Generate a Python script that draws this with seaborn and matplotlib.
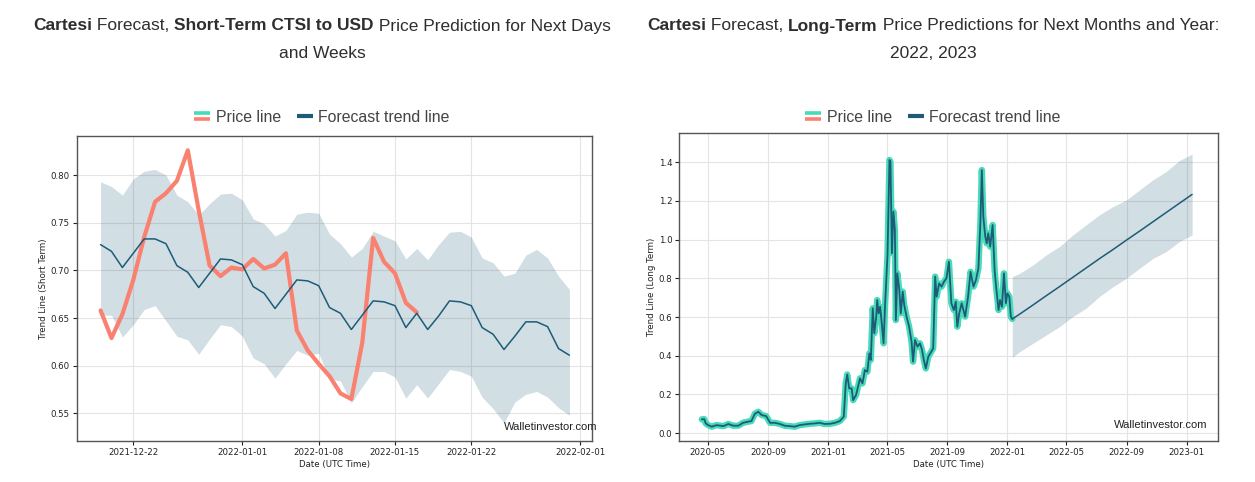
import numpy as np
import pandas as pd
import matplotlib
matplotlib.use("Agg")
import matplotlib.pyplot as plt
import matplotlib.dates as mdates
from matplotlib.lines import Line2D
from matplotlib.legend_handler import HandlerBase
import seaborn as sns

# ---------------- data: short term ----------------
short_start = "2021-12-19"
short_forecast = [0.727, 0.720, 0.703, 0.718, 0.733, 0.733, 0.728, 0.705, 0.698, 0.682, 0.697, 0.712, 0.711,
                  0.706, 0.683, 0.676, 0.660, 0.675, 0.690, 0.689, 0.684, 0.661, 0.655, 0.638, 0.653, 0.668,
                  0.667, 0.663, 0.640, 0.655, 0.638, 0.652, 0.668, 0.667, 0.663, 0.640, 0.633, 0.617, 0.631,
                  0.646, 0.646, 0.641, 0.618, 0.611]
short_upper = [0.793, 0.788, 0.779, 0.796, 0.804, 0.806, 0.800, 0.779, 0.772, 0.758, 0.770, 0.780, 0.781,
               0.774, 0.754, 0.749, 0.736, 0.742, 0.759, 0.761, 0.760, 0.738, 0.728, 0.714, 0.723, 0.741,
               0.736, 0.731, 0.712, 0.723, 0.711, 0.727, 0.740, 0.741, 0.735, 0.713, 0.708, 0.694, 0.697,
               0.716, 0.722, 0.713, 0.694, 0.680]
short_lower = [0.653, 0.653, 0.630, 0.643, 0.659, 0.663, 0.647, 0.631, 0.627, 0.612, 0.628, 0.643, 0.641,
               0.631, 0.608, 0.602, 0.587, 0.602, 0.616, 0.611, 0.613, 0.586, 0.584, 0.561, 0.578, 0.594,
               0.594, 0.588, 0.566, 0.580, 0.566, 0.581, 0.596, 0.594, 0.589, 0.567, 0.555, 0.540, 0.562,
               0.570, 0.573, 0.567, 0.556, 0.548]
short_price = [0.658, 0.629, 0.654, 0.690, 0.735, 0.772, 0.781, 0.794, 0.826, 0.763, 0.705, 0.694, 0.703,
               0.701, 0.712, 0.702, 0.706, 0.718, 0.637, 0.616, 0.602, 0.589, 0.571, 0.565, 0.624, 0.734,
               0.709, 0.697, 0.666, 0.656]
short_xticks = ["2021-12-22", "2022-01-01", "2022-01-08", "2022-01-15", "2022-01-22", "2022-02-01"]
short_yticks = [0.55, 0.60, 0.65, 0.70, 0.75, 0.80]

# ---------------- data: long term ----------------
long_dates = ["2020-04-19", "2020-04-24", "2020-04-27", "2020-05-02", "2020-05-09", "2020-05-19", "2020-06-02",
              "2020-06-12", "2020-06-22", "2020-07-02", "2020-07-12", "2020-07-22", "2020-07-29", "2020-08-05",
              "2020-08-12", "2020-08-19", "2020-08-28", "2020-09-05", "2020-09-15", "2020-09-25", "2020-10-05",
              "2020-10-15", "2020-10-25", "2020-11-04", "2020-11-15", "2020-11-25", "2020-12-05", "2020-12-15",
              "2020-12-25", "2021-01-05", "2021-01-15", "2021-01-25", "2021-02-02", "2021-02-06", "2021-02-09",
              "2021-02-13", "2021-02-18", "2021-02-21", "2021-02-27", "2021-03-03", "2021-03-07", "2021-03-12",
              "2021-03-17", "2021-03-22", "2021-03-26", "2021-03-29", "2021-04-02", "2021-04-05", "2021-04-09",
              "2021-04-11", "2021-04-14", "2021-04-17", "2021-04-20", "2021-04-24", "2021-04-27", "2021-05-02",
              "2021-05-06", "2021-05-08", "2021-05-11", "2021-05-14", "2021-05-17", "2021-05-19", "2021-05-22",
              "2021-05-26", "2021-05-29", "2021-06-02", "2021-06-05", "2021-06-10", "2021-06-15", "2021-06-20",
              "2021-06-23", "2021-06-27", "2021-07-02", "2021-07-07", "2021-07-11", "2021-07-15", "2021-07-19",
              "2021-07-24", "2021-07-28", "2021-08-03", "2021-08-07", "2021-08-10", "2021-08-15", "2021-08-20",
              "2021-08-25", "2021-08-30", "2021-09-04", "2021-09-09", "2021-09-14", "2021-09-18", "2021-09-21",
              "2021-09-25", "2021-09-30", "2021-10-07", "2021-10-13", "2021-10-18", "2021-10-24", "2021-10-29",
              "2021-11-03", "2021-11-07", "2021-11-10", "2021-11-13", "2021-11-17", "2021-11-20", "2021-11-23",
              "2021-11-27", "2021-12-02", "2021-12-06", "2021-12-09", "2021-12-14", "2021-12-17", "2021-12-21",
              "2021-12-25", "2021-12-29", "2022-01-01", "2022-01-05", "2022-01-08", "2022-01-11"]
long_price = [0.071, 0.072, 0.050, 0.041, 0.033, 0.041, 0.036, 0.047, 0.038, 0.038, 0.053, 0.059, 0.062, 0.100,
              0.110, 0.093, 0.088, 0.053, 0.053, 0.047, 0.038, 0.036, 0.033, 0.041, 0.045, 0.048, 0.050, 0.053,
              0.047, 0.048, 0.053, 0.062, 0.085, 0.257, 0.303, 0.231, 0.231, 0.170, 0.197, 0.240, 0.283, 0.257,
              0.326, 0.317, 0.412, 0.378, 0.645, 0.516, 0.600, 0.688, 0.619, 0.653, 0.576, 0.464, 0.662, 0.921,
              1.412, 1.403, 0.930, 1.145, 1.050, 0.584, 0.826, 0.740, 0.619, 0.731, 0.662, 0.600, 0.550, 0.472,
              0.369, 0.481, 0.447, 0.464, 0.433, 0.378, 0.334, 0.395, 0.412, 0.438, 0.809, 0.705, 0.774, 0.757,
              0.783, 0.800, 0.886, 0.671, 0.636, 0.679, 0.550, 0.619, 0.671, 0.602, 0.705, 0.834, 0.757, 0.791,
              0.852, 1.084, 1.360, 1.119, 1.016, 0.981, 1.033, 0.964, 1.076, 0.843, 0.757, 0.636, 0.688, 0.653,
              0.826, 0.671, 0.722, 0.705, 0.602, 0.590]
fut_dates = ["2022-01-11", "2022-01-26", "2022-02-22", "2022-03-21", "2022-04-17", "2022-05-14", "2022-06-10",
             "2022-07-07", "2022-08-04", "2022-08-31", "2022-09-27", "2022-10-24", "2022-11-20", "2022-12-17",
             "2023-01-12"]
fut_trend = [0.590, 0.615, 0.662, 0.710, 0.757, 0.805, 0.853, 0.901, 0.949, 0.997, 1.044, 1.092, 1.140, 1.188, 1.234]
fut_upper = [0.809, 0.826, 0.869, 0.921, 0.964, 1.024, 1.076, 1.128, 1.171, 1.205, 1.257, 1.309, 1.352, 1.409, 1.443]
fut_lower = [0.391, 0.421, 0.464, 0.507, 0.550, 0.602, 0.645, 0.705, 0.757, 0.800, 0.852, 0.903, 0.938, 0.990, 1.024]
long_xticks = ["2020-05-01", "2020-09-01", "2021-01-01", "2021-05-01", "2021-09-01", "2022-01-01",
               "2022-05-01", "2022-09-01", "2023-01-01"]
long_yticks = [0.0, 0.2, 0.4, 0.6, 0.8, 1.0, 1.2, 1.4]

# ---------------- style ----------------
SALMON = "#fa8070"
NAVY = "#1d5b79"
TEAL = "#48dbb8"
TXT = "#2e2e2e"

sns.set_style("whitegrid")
plt.rcParams["font.family"] = ["DejaVu Sans"]

W, H = 1255, 482
fig = plt.figure(figsize=(W / 100, H / 100), dpi=100)


def px_rect(l, t, r, b):
    return [l / W, 1 - b / H, (r - l) / W, (b - t) / H]


ax1 = fig.add_axes(px_rect(76.7, 136, 592.3, 441))
ax2 = fig.add_axes(px_rect(679.3, 133.3, 1217.7, 441))

# short term chart
sd = pd.date_range(short_start, periods=len(short_forecast), freq="D")
pdts = sd[:len(short_price)]
ax1.fill_between(sd, short_lower, short_upper, color=NAVY, alpha=0.2, linewidth=0, zorder=1)
sns.lineplot(x=pdts, y=short_price, ax=ax1, color=SALMON, linewidth=3.0, zorder=3)
sns.lineplot(x=sd, y=short_forecast, ax=ax1, color=NAVY, linewidth=1.1, zorder=4)
j1 = mdates.date2num(pd.Timestamp("2022-01-01"))
ax1.set_xlim(j1 - 15.19, j1 + 32.1)
ax1.set_ylim(0.521, 0.841)
ax1.set_xticks(pd.to_datetime(short_xticks))
ax1.xaxis.set_major_formatter(mdates.DateFormatter("%Y-%m-%d"))
ax1.set_yticks(short_yticks)
ax1.yaxis.set_major_formatter(matplotlib.ticker.FormatStrFormatter("%.2f"))
ax1.set_ylabel("Trend Line (Short Term)")
ax1.set_xlabel("Date (UTC Time)")

# long term chart
ld = pd.to_datetime(long_dates)
fd = pd.to_datetime(fut_dates)
ax2.fill_between(fd, fut_lower, fut_upper, color=NAVY, alpha=0.2, linewidth=0, zorder=1)
sns.lineplot(x=ld, y=long_price, ax=ax2, color=TEAL, linewidth=4.6, zorder=3)
sns.lineplot(x=ld, y=long_price, ax=ax2, color=NAVY, linewidth=1.3, zorder=4)
sns.lineplot(x=fd, y=fut_trend, ax=ax2, color=NAVY, linewidth=1.1, zorder=4)
m5 = mdates.date2num(pd.Timestamp("2020-05-01"))
j23 = mdates.date2num(pd.Timestamp("2023-01-01"))
ax2.set_xlim(m5 - 57.8, j23 + 63.1)
ax2.set_ylim(-0.041, 1.55)
ax2.set_xticks(pd.to_datetime(long_xticks))
ax2.xaxis.set_major_formatter(mdates.DateFormatter("%Y-%m"))
ax2.set_yticks(long_yticks)
ax2.yaxis.set_major_formatter(matplotlib.ticker.FormatStrFormatter("%.1f"))
ax2.set_ylabel("Trend Line (Long Term)")
ax2.set_xlabel("Date (UTC Time)")

for ax in (ax1, ax2):
    ax.grid(True, color="#e4e4e4", linewidth=0.8)
    for s in ax.spines.values():
        s.set_color("#555555")
        s.set_linewidth(1.0)
    ax.tick_params(axis="both", which="major", labelsize=6.2, colors="#222222", length=3,
                   width=0.8, direction="out", left=True, bottom=True, pad=2)
    ax.xaxis.label.set_size(6.2)
    ax.yaxis.label.set_size(6.2)
    ax.xaxis.label.set_color("#222222")
    ax.yaxis.label.set_color("#222222")
    ax.xaxis.labelpad = 2
    ax.yaxis.labelpad = 2

# watermarks
fig.text(597.7 / W, 1 - 427 / H, "Walletinvestor.com", ha="right", va="center",
         fontsize=8.0, family="Liberation Sans", color="#222222")
fig.text(1207.7 / W, 1 - 425 / H, "Walletinvestor.com", ha="right", va="center",
         fontsize=8.0, family="Liberation Sans", color="#222222")

# titles with mixed weights
fig.canvas.draw()
renderer = fig.canvas.get_renderer()


def mixed_line(parts, cx, base_y, size=12.5):
    arts = []
    widths = []
    for s, bold in parts:
        t = fig.text(0, 1 - base_y / H, s, fontsize=size, fontweight="bold" if bold else "normal",
                     family="Liberation Sans", color=TXT, ha="left", va="baseline")
        bb = t.get_window_extent(renderer)
        arts.append(t)
        widths.append(bb.width)
    total = sum(widths)
    x = cx - total / 2
    for t, w in zip(arts, widths):
        t.set_x(x / W)
        x += w


mixed_line([("Cartesi", True), (" Forecast, ", False), ("Short-Term CTSI to USD", True),
            (" Price Prediction for Next Days", False)], 322, 30.5)
mixed_line([("and Weeks", False)], 322, 57.5)
mixed_line([("Cartesi", True), (" Forecast, ", False), ("Long-Term", True),
            (" Price Predictions for Next Months and Year:", False)], 933, 30.5)
mixed_line([("2022, 2023", False)], 933, 57.5)


# legends
class TwoColor:
    def __init__(self, c1, c2):
        self.c1, self.c2 = c1, c2


class HandlerTwoColor(HandlerBase):
    def create_artists(self, legend, orig_handle, xdescent, ydescent, width, height, fontsize, trans):
        ym = height / 2 - ydescent
        l1 = Line2D([-xdescent, width - xdescent], [ym + 2.0, ym + 2.0], color=orig_handle.c1,
                    linewidth=2.6, solid_capstyle="butt", transform=trans)
        l2 = Line2D([-xdescent, width - xdescent], [ym - 2.0, ym - 2.0], color=orig_handle.c2,
                    linewidth=2.6, solid_capstyle="butt", transform=trans)
        return [l1, l2]


for cx in (322, 933):
    handles = [TwoColor(TEAL, SALMON),
               Line2D([0], [0], color=NAVY, linewidth=3.0, solid_capstyle="butt")]
    fig.legend(handles, ["Price line", "Forecast trend line"], loc="center",
               bbox_to_anchor=(cx / W, 1 - 117 / H), ncol=2, frameon=False,
               handler_map={TwoColor: HandlerTwoColor()}, handlelength=1.0, handletextpad=0.35,
               columnspacing=1.0, prop={"family": "Liberation Sans", "size": 11.4},
               labelcolor="#444444")

fig.savefig("out.png", dpi=100)
